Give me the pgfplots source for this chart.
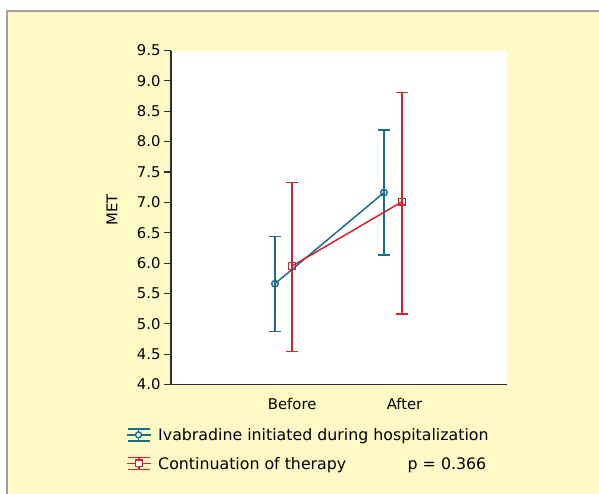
\documentclass[border=0pt]{standalone}
\usepackage{fontspec}
\setmainfont{DejaVu Sans}
\usepackage{pgfplots}
\pgfplotsset{compat=1.18}

\definecolor{bgyellow}{HTML}{FFF9C6}
\definecolor{frame}{HTML}{9E9E9E}
\definecolor{ivablue}{HTML}{1B6E8E}
\definecolor{contred}{HTML}{D8232F}
\definecolor{axisgray}{HTML}{2E2E2E}

\begin{document}
\begin{tikzpicture}
% page and yellow panel (pixel units, y downward)
\path[use as bounding box, fill=white] (0,0) rectangle (599bp,-494bp);
\fill[bgyellow] (7bp,-11bp) rectangle (599bp,-494bp);
\draw[frame, line width=1.6bp] (7bp,-494bp) -- (7bp,-11bp) -- (599bp,-11bp);

\begin{axis}[
    at={(171bp,-384.5bp)}, anchor=south west,
    scale only axis,
    width=336bp, height=334bp,
    xmin=0, xmax=3.05,
    ymin=4, ymax=9.5,
    axis x line*=bottom, axis y line*=left,
    axis line style={-, axisgray, line width=1.2bp},
    axis background/.style={fill=white},
    xtick={1.1,2.12},
    xticklabels={Before, After},
    xtick style={draw=none},
    ytick={4,4.5,...,9.5},
    ytick style={axisgray, line width=1.1bp},
    tick align=outside,
    major tick length=7bp,
    /pgf/number format/assume math mode=true,
    yticklabel style={/pgf/number format/.cd, fixed, fixed zerofill, precision=1},
    ticklabel style={font=\fontsize{14.8bp}{17bp}\selectfont, text=black},
    xticklabel style={yshift=-3bp},
    ylabel={MET},
    ylabel style={at={(rel axis cs:-0.176,0.522)}, anchor=center,
        font=\fontsize{14.8bp}{17bp}\selectfont},
    legend style={draw=none, fill=none, at={(rel axis cs:-0.135,-0.13)},
        anchor=north west, font=\fontsize{15.8bp}{18bp}\selectfont,
        row sep=15bp, inner sep=0pt,
        nodes={inner xsep=7bp, inner ysep=0pt}},
    legend cell align=left,
]
\addplot[ivablue, line width=1.5bp, mark=o, mark size=3.3bp,
    mark options={fill=white, solid, line width=1.4bp},
    legend image code/.code={
        \draw[ivablue, line width=1.4bp] (0bp,0bp) -- (24bp,0bp);
        \draw[ivablue, line width=1.4bp] (12bp,-6bp) -- (12bp,6bp);
        \draw[ivablue, line width=1.4bp] (1bp,6bp) -- (23bp,6bp);
        \draw[ivablue, line width=1.4bp] (1bp,-6bp) -- (23bp,-6bp);
        \draw[ivablue, line width=1.4bp, fill=white] (12bp,0bp) circle (3bp);
    },
    error bars/.cd, y dir=both, y explicit,
    error bar style={ivablue, line width=1.5bp},
    error mark options={ivablue, rotate=90, mark size=6bp, line width=1.5bp}]
coordinates {
    (0.944,5.66) += (0,0.78) -= (0,0.79)
    (1.933,7.16) += (0,1.03) -= (0,1.03)
};
\addlegendentry{Ivabradine initiated during hospitalization}

\addplot[contred, line width=1.5bp, mark=square, mark size=3.4bp,
    mark options={fill=white, solid, line width=1.4bp},
    legend image code/.code={
        \draw[contred, line width=1.4bp] (0bp,0.5bp) -- (24bp,0.5bp);
        \draw[contred, line width=1.4bp] (12.5bp,-5.5bp) -- (12.5bp,6.5bp);
        \draw[contred, line width=1.4bp] (1bp,6.5bp) -- (23bp,6.5bp);
        \draw[contred, line width=1.4bp] (1bp,-5.5bp) -- (23bp,-5.5bp);
        \draw[contred, line width=1.4bp, fill=white] (9.1bp,-2.9bp) rectangle (15.9bp,3.9bp);
    },
    error bars/.cd, y dir=both, y explicit,
    error bar style={contred, line width=1.5bp},
    error mark options={contred, rotate=90, mark size=6bp, line width=1.5bp}]
coordinates {
    (1.098,5.95) += (0,1.38) -= (0,1.41)
    (2.097,7.01) += (0,1.80) -= (0,1.85)
};
\addlegendentry{\makebox[328bp][l]{Continuation of therapy\hfill p = 0.366}}
\end{axis}
\end{tikzpicture}
\end{document}
